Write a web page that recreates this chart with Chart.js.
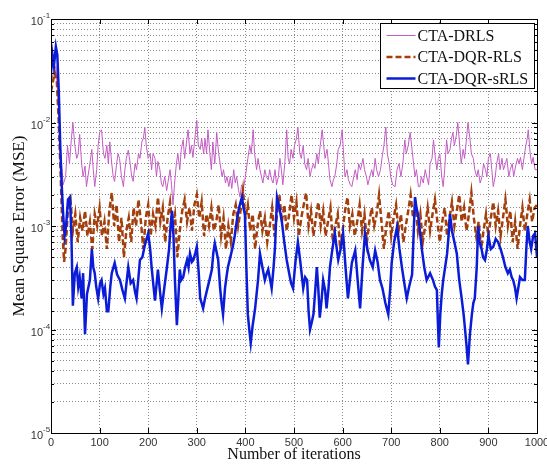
<!DOCTYPE html>
<html>
<head>
<meta charset="utf-8">
<script src="https://cdn.jsdelivr.net/npm/chart.js@4"></script>
<style>
  html, body { margin: 0; padding: 0; background: #fff; }
  #wrap { width: 547px; height: 464px; }
</style>
</head>
<body>
<div id="wrap"><canvas id="mseChart" width="547" height="464"></canvas></div>
<script>
// series (iteration, MSE)
const drlsIter = [0,5,10,15,20,25,30,34,38,42,45,49,53,56,59,63,66,70,73,76,80,84,87,90,94,97,100,104,108,111,115,118,121,125,128,131,135,138,141,145,149,152,155,159,163,166,169,173,176,180,183,187,190,193,196,200,204,207,210,214,217,220,224,227,230,234,238,241,245,248,251,254,258,261,265,268,272,275,278,282,286,289,292,296,300,303,307,310,314,317,320,323,327,330,333,337,341,345,348,352,355,359,362,366,369,372,376,379,382,386,389,392,396,400,405,409,412,416,419,423,426,430,433,436,440,443,447,450,454,457,461,464,468,471,474,477,481,485,488,491,494,498,501,505,508,512,515,519,522,526,529,533,536,540,543,547,550,554,558,561,564,568,571,574,578,581,584,588,591,595,599,602,605,609,612,616,619,623,626,630,633,637,642,645,649,652,656,660,663,667,670,674,678,681,685,689,692,696,699,703,708,712,716,720,724,728,731,735,739,742,746,749,752,756,759,762,766,770,773,777,780,784,787,791,794,797,800,804,807,810,814,817,821,824,827,830,834,837,841,844,848,851,855,858,862,865,869,872,876,879,883,887,890,894,897,900,904,907,910,914,917,921,924,928,931,935,938,942,945,949,952,956,960,963,966,970,973,977,980,982,986,989,992,996,1000];
const drlsMse = [2.5e-2,3e-2,3.5e-2,1.5e-2,5e-3,2.5e-3,3e-3,6e-3,4e-3,7e-3,1e-2,6e-3,4.5e-3,5e-3,7.7e-3,4e-3,3e-3,3.8e-3,2.4e-3,3e-3,4e-3,5.5e-3,3.5e-3,2.4e-3,3.5e-3,6e-3,8e-3,8.5e-3,5e-3,4.5e-3,6e-3,4e-3,6.5e-3,4e-3,3e-3,2.7e-3,4e-3,5e-3,4.5e-3,3e-3,2.4e-3,3.5e-3,4.5e-3,5.4e-3,4e-3,3e-3,2.7e-3,4e-3,3.5e-3,5e-3,4.5e-3,6.5e-3,7e-3,9e-3,6e-3,4.5e-3,5e-3,3.5e-3,5e-3,4.5e-3,3e-3,4.2e-3,3.5e-3,2.6e-3,2.4e-3,3e-3,2.2e-3,2.7e-3,3.5e-3,2.5e-3,1.6e-3,2.5e-3,4e-3,5e-3,3.5e-3,5.5e-3,6.8e-3,4.5e-3,6e-3,8.5e-3,5e-3,6e-3,4.6e-3,7e-3,1.05e-2,6e-3,5.5e-3,7e-3,5e-3,7e-3,5e-3,8.5e-3,5e-3,3.5e-3,6.5e-3,4e-3,8e-3,5e-3,4e-3,3e-3,3.5e-3,2.6e-3,3e-3,2.4e-3,3e-3,2.3e-3,3.5e-3,2.6e-3,3e-3,2.2e-3,1.9e-3,2.5e-3,2.3e-3,3e-3,4.5e-3,6e-3,5e-3,8.5e-3,5e-3,3.5e-3,4.5e-3,3.5e-3,3e-3,2.6e-3,3.5e-3,3e-3,2.8e-3,3.5e-3,2.8e-3,2.6e-3,3.5e-3,2.5e-3,3e-3,4.5e-3,3.5e-3,2.5e-3,4e-3,8.5e-3,4.5e-3,4e-3,5.5e-3,4.5e-3,6e-3,7e-3,9e-3,5e-3,4.5e-3,6e-3,4e-3,3.5e-3,4.5e-3,3e-3,3.5e-3,4e-3,3.6e-3,5e-3,4e-3,6e-3,8.5e-3,6e-3,4.5e-3,5.5e-3,4e-3,2.8e-3,2.4e-3,2.8e-3,3e-3,4e-3,5.5e-3,6e-3,8.5e-3,5e-3,3e-3,3.5e-3,2.8e-3,2.5e-3,2.4e-3,3e-3,3.5e-3,2.8e-3,4e-3,3.5e-3,4.5e-3,3.5e-3,3e-3,2.5e-3,3e-3,3.5e-3,3e-3,4.5e-3,3.5e-3,3e-3,3.5e-3,4.5e-3,6e-3,9e-3,5e-3,4e-3,3e-3,2.5e-3,2.4e-3,3.5e-3,4e-3,3e-3,4e-3,6.8e-3,5e-3,6e-3,8e-3,6e-3,4e-3,3e-3,3.5e-3,2.4e-3,2.4e-3,3e-3,2.6e-3,3.5e-3,3e-3,2.5e-3,4e-3,4.5e-3,6.8e-3,4.5e-3,3.5e-3,4.5e-3,5e-3,3e-3,2.4e-3,3.5e-3,6.8e-3,5e-3,5.5e-3,7e-3,8e-3,6e-3,7.5e-3,1e-2,6e-3,4e-3,5.5e-3,4.5e-3,7e-3,1e-2,7e-3,5e-3,4.5e-3,3.5e-3,3e-3,3.5e-3,2.6e-3,3e-3,4e-3,3.5e-3,3e-3,4.5e-3,5e-3,3.5e-3,2.4e-3,3e-3,4e-3,5e-3,3.5e-3,4.5e-3,3.5e-3,4e-3,4.5e-3,3e-3,3.5e-3,4e-3,3e-3,3.8e-3,4.5e-3,4e-3,4.6e-3,3.5e-3,4.5e-3,6e-3,7e-3,8.5e-3,5e-3,4e-3,4.6e-3,3.5e-3,3.5e-3];

const dqrIter = [0,4,8,12,16,20,24,27,30,35,40,45,50,55,60,65,70,75,80,85,90,95,100,105,110,115,120,125,130,135,140,145,150,155,160,165,170,175,180,185,190,195,200,205,210,215,220,225,230,235,240,245,250,255,260,265,270,275,280,285,290,295,300,305,310,315,320,325,330,335,340,345,350,355,360,365,370,375,380,385,390,395,400,405,410,415,420,425,430,435,440,445,450,455,460,465,470,475,480,485,490,495,500,505,510,515,520,525,530,535,540,545,550,555,560,565,570,575,580,585,590,595,600,605,610,615,620,625,630,635,640,645,650,655,660,665,670,675,680,685,690,695,700,705,710,715,720,725,730,735,740,745,750,755,760,765,770,775,780,785,790,795,800,805,810,815,820,825,830,835,840,845,850,855,860,865,870,875,880,885,890,895,900,905,910,915,920,925,930,935,940,945,950,955,960,965,970,975,980,985,990,995,1000];
const dqrMse = [2e-2,2.5e-2,3e-2,2.5e-2,1e-2,3e-3,8e-4,4.5e-4,6e-4,1.5e-3,1.8e-3,9e-4,1.3e-3,7e-4,1.2e-3,9e-4,1.4e-3,8e-4,1.1e-3,6e-4,1.3e-3,1e-3,1.5e-3,8e-4,1.1e-3,6e-4,1.4e-3,2.1e-3,1e-3,1.6e-3,7e-4,1.2e-3,5e-4,9e-4,1.2e-3,7e-4,1.5e-3,1e-3,1.8e-3,1.1e-3,6e-4,1.2e-3,1.6e-3,8e-4,1.3e-3,1e-3,1.9e-3,1.1e-3,1.5e-3,7e-4,1.2e-3,1.7e-3,1e-3,1.3e-3,5e-4,9e-4,1.4e-3,1.8e-3,1.1e-3,1.5e-3,9e-4,1.6e-3,2e-3,1.2e-3,1.7e-3,8e-4,1.3e-3,1e-3,1.5e-3,9e-4,1.1e-3,1.6e-3,8e-4,1.2e-3,6e-4,1e-3,7e-4,1.3e-3,1.6e-3,1e-3,1.4e-3,2.2e-3,1.2e-3,1.6e-3,9e-4,1.3e-3,6e-4,1e-3,1.4e-3,9e-4,1.2e-3,7e-4,1e-3,1.5e-3,8e-4,1.3e-3,2e-3,1.1e-3,1.6e-3,9e-4,1.3e-3,2e-3,1.2e-3,1.7e-3,8e-4,1.2e-3,1.6e-3,2.1e-3,1e-3,1.4e-3,8e-4,1.2e-3,1.7e-3,1e-3,1.4e-3,8e-4,1.1e-3,1.5e-3,7e-4,1e-3,1.3e-3,6e-4,9e-4,1.4e-3,1.9e-3,1e-3,1.3e-3,8e-4,1.1e-3,1.6e-3,9e-4,1.3e-3,7e-4,1.1e-3,1.5e-3,1e-3,1.3e-3,2e-3,1.1e-3,6e-4,1e-3,1.4e-3,8e-4,1.2e-3,1.6e-3,9e-4,1.3e-3,7e-4,1e-3,1.4e-3,2e-3,1.2e-3,1.6e-3,9e-4,1.3e-3,7e-4,1e-3,1.5e-3,9e-4,1.3e-3,1.8e-3,1.1e-3,7e-4,1.1e-3,1.5e-3,8e-4,1.2e-3,1.7e-3,1e-3,1.4e-3,2e-3,1.1e-3,1.5e-3,9e-4,1.3e-3,2.1e-3,1.2e-3,8e-4,1.1e-3,6e-4,9e-4,1.3e-3,8e-4,1.2e-3,1.7e-3,1e-3,1.4e-3,8e-4,1.2e-3,1.8e-3,1e-3,1.4e-3,7e-4,1.1e-3,6e-4,1e-3,1.5e-3,9e-4,1.3e-3,1.8e-3,1.1e-3,1.5e-3,1.6e-3];

const srlsIter = [0,3,6,10,13,16,19,22,25,28,31,35,39,42,45,49,53,56,59,63,66,70,74,80,84,87,90,93,97,101,104,108,111,115,118,122,125,131,136,142,147,152,156,159,164,169,173,176,180,183,188,193,200,204,207,211,214,218,220,224,228,233,238,243,246,249,252,255,259,262,265,268,272,276,280,283,286,290,293,297,300,304,307,310,313,317,321,326,331,334,337,341,344,348,351,354,358,361,364,369,374,378,382,387,390,393,396,399,402,405,408,411,415,420,423,426,430,435,440,444,447,451,454,458,461,465,470,475,480,485,490,494,498,503,508,513,519,523,527,530,533,537,540,544,547,550,553,557,560,564,567,571,574,579,584,588,591,596,601,606,611,615,619,626,631,636,641,646,651,656,662,667,672,677,682,688,694,698,701,706,712,717,722,727,732,737,743,746,749,752,755,759,763,768,773,780,786,790,794,796,798,801,804,807,811,815,818,821,825,830,835,840,845,849,852,855,858,862,866,869,872,876,879,882,886,889,893,897,900,905,910,915,920,925,930,935,940,944,948,951,955,958,962,965,970,975,978,981,985,988,992,996,1000];
const srlsMse = [3e-2,4.5e-2,3.5e-2,5.4e-2,4.5e-2,2e-2,6e-3,2.5e-3,1.3e-3,8e-4,1e-3,1.8e-3,1.9e-3,8e-4,1.7e-4,3.5e-4,4e-4,2.6e-4,3.2e-4,2e-4,3.5e-4,9e-5,2.2e-4,3e-4,6e-4,4e-4,3.5e-4,2.6e-4,2e-4,2.8e-4,3e-4,2.2e-4,2.5e-4,1.5e-4,1.5e-4,2.6e-4,3.5e-4,4.4e-4,3.4e-4,3e-4,2.4e-4,2e-4,3e-4,4e-4,2.8e-4,3e-4,2.3e-4,2e-4,3.2e-4,4.7e-4,5e-4,6.5e-4,8.5e-4,6e-4,4e-4,2.6e-4,1.9e-4,3e-4,3.8e-4,2.4e-4,1.6e-4,2.5e-4,3.8e-4,6e-4,1e-3,1.4e-3,8e-4,3e-4,1.1e-4,2e-4,3.8e-4,3e-4,3.2e-4,4e-4,4.7e-4,4e-4,5.4e-4,4.5e-4,4.7e-4,5.5e-4,6.3e-4,3.5e-4,2e-4,1.8e-4,1.6e-4,2e-4,2.4e-4,3e-4,3.8e-4,5.5e-4,6.8e-4,5.5e-4,4.7e-4,2.5e-4,1.8e-4,1.4e-4,2.5e-4,3.2e-4,4e-4,5e-4,6.3e-4,8e-4,1.1e-3,1.5e-3,1.7e-3,1.9e-3,1.5e-3,1.3e-3,4e-4,1.4e-4,1e-4,7.4e-5,1.1e-4,1.6e-4,2.2e-4,3e-4,5.4e-4,4e-4,3e-4,3.5e-4,3.8e-4,3e-4,2.5e-4,4e-4,6.3e-4,1.9e-3,1.5e-3,1.1e-3,7e-4,4.7e-4,3.5e-4,2.8e-4,2.5e-4,4.5e-4,7e-4,4.5e-4,2.5e-4,3.2e-4,3e-4,1.5e-4,1e-4,1.2e-4,1.4e-4,2.5e-4,4e-4,2.5e-4,1.3e-4,2e-4,3e-4,2.4e-4,1.6e-4,2.5e-4,4e-4,6e-4,8.5e-4,6e-4,4.7e-4,6e-4,8.5e-4,4e-4,2e-4,3e-4,4.4e-4,5.8e-4,3e-4,1.6e-4,4e-4,8.5e-4,6e-4,4.7e-4,4e-4,5.8e-4,4.5e-4,3e-4,2.5e-4,1.8e-4,1.4e-4,2.5e-4,4.4e-4,7e-4,9.8e-4,6e-4,4e-4,2.8e-4,2e-4,2.6e-4,3.4e-4,8e-4,1.9e-3,1.5e-3,1.3e-3,9e-4,6e-4,4e-4,3e-4,3.5e-4,3e-4,2.6e-4,2.4e-4,1.2e-4,6.7e-5,1.4e-4,2.2e-4,3e-4,4e-4,5.4e-4,8e-4,1.3e-3,9e-4,7e-4,5.4e-4,3e-4,2e-4,1.4e-4,1e-4,7e-5,4.6e-5,9e-5,1.4e-4,1.8e-4,2e-4,4e-4,1e-3,7e-4,6e-4,5e-4,4.7e-4,6e-4,8e-4,6e-4,6.3e-4,7.5e-4,7e-4,6e-4,5e-4,4e-4,3.5e-4,3.8e-4,3.2e-4,3e-4,2.5e-4,2e-4,2.6e-4,3.2e-4,3e-4,3e-4,6e-4,1e-3,7e-4,6e-4,8e-4,8.5e-4,5e-4];

const seriesNames = ['CTA-DRLS', 'CTA-DQR-RLS', 'CTA-DQR-sRLS'];
const xTicks = [0,100,200,300,400,500,600,700,800,900,1000];
const yExponents = [-1,-2,-3,-4,-5];

function pts(xs, ys) {
  return xs.map((x, i) => ({ x: x, y: ys[i] }));
}

// frame, inward tick marks, 10^n labels and the legend box
const decorPlugin = {
  id: 'decor',
  afterDraw(chart) {
    const ctx = chart.ctx;
    const a = chart.chartArea;
    const xs = chart.scales.x, ys = chart.scales.y;
    ctx.save();
    ctx.strokeStyle = '#000';
    ctx.lineWidth = 1;
    // tick marks
    ctx.beginPath();
    ys.ticks.forEach(t => {
      const y = Math.round(ys.getPixelForValue(t.value)) + 0.5;
      const major = Math.abs(Math.log10(t.value) - Math.round(Math.log10(t.value))) < 1e-6;
      const len = major ? 5 : 3;
      ctx.moveTo(a.left, y); ctx.lineTo(a.left + len, y);
      ctx.moveTo(a.right, y); ctx.lineTo(a.right - len, y);
    });
    xTicks.forEach(v => {
      const x = Math.round(xs.getPixelForValue(v)) + 0.5;
      ctx.moveTo(x, a.bottom); ctx.lineTo(x, a.bottom - 5);
      ctx.moveTo(x, a.top); ctx.lineTo(x, a.top + 5);
    });
    ctx.stroke();
    ctx.strokeRect(Math.round(a.left) + 0.5, Math.round(a.top) + 0.5,
      Math.round(a.right - a.left), Math.round(a.bottom - a.top));

    // y labels with superscript exponent
    ctx.fillStyle = '#333';
    ctx.textBaseline = 'middle';
    yExponents.forEach(e => {
      const y = ys.getPixelForValue(Math.pow(10, e));
      ctx.font = '11px "Liberation Sans", Arial, sans-serif';
      ctx.textAlign = 'right';
      ctx.fillText('10', a.left - 8, y + 3);
      ctx.font = '8px "Liberation Sans", Arial, sans-serif';
      ctx.textAlign = 'left';
      ctx.fillText(String(e), a.left - 8, y - 3);
    });

    // legend
    const lx = 380.5, ly = 23.5, lw = 154, lh = 65;
    ctx.fillStyle = '#fff';
    ctx.fillRect(lx, ly, lw, lh);
    ctx.strokeStyle = '#000';
    ctx.strokeRect(lx, ly, lw, lh);
    ctx.font = '16px "Liberation Serif", "Times New Roman", serif';
    ctx.textAlign = 'left';
    ctx.textBaseline = 'middle';
    chart.data.datasets.forEach((ds, i) => {
      const y = ly + 12 + i * 21.5;
      ctx.save();
      ctx.strokeStyle = ds.borderColor;
      ctx.lineWidth = ds.borderWidth;
      ctx.setLineDash(ds.borderDash || []);
      ctx.beginPath();
      ctx.moveTo(lx + 6, y); ctx.lineTo(lx + 35, y);
      ctx.stroke();
      ctx.restore();
      ctx.fillStyle = '#111';
      ctx.fillText(ds.label, lx + 37, y + 1);
    });
    ctx.restore();
  }
};

const ctx = document.getElementById('mseChart').getContext('2d');
const mseChart = new Chart(ctx, {
  type: 'line',
  data: {
    datasets: [
      { label: seriesNames[0], data: pts(drlsIter, drlsMse), borderColor: '#c25cc4', borderWidth: 1, pointRadius: 0, tension: 0, order: 3 },
      { label: seriesNames[1], data: pts(dqrIter, dqrMse), borderColor: '#a33f0c', borderWidth: 2.5, borderDash: [6, 3], pointRadius: 0, tension: 0, order: 2 },
      { label: seriesNames[2], data: pts(srlsIter, srlsMse), borderColor: '#0b1cd8', borderWidth: 2.5, pointRadius: 0, tension: 0, order: 1 },
    ],
  },
  options: {
    responsive: false,
    animation: false,
    layout: { padding: { top: 19, right: 10, left: 0, bottom: 0 } },
    plugins: { legend: { display: false }, tooltip: { enabled: false } },
    scales: {
      x: {
        type: 'linear',
        min: 0,
        max: 1000,
        afterBuildTicks: (s) => { s.ticks = xTicks.map(v => ({ value: v })); },
        ticks: { font: { family: '"Liberation Sans", Arial, sans-serif', size: 11 }, color: '#333', padding: 3, maxRotation: 0, callback: (v) => String(v) },
        grid: { color: '#8a8a8a', drawTicks: false },
        border: { display: false, dash: [1, 2] },
        title: {
          display: true,
          text: 'Number of iterations',
          font: { family: '"Liberation Serif", "Times New Roman", serif', size: 16 },
          color: '#111',
          padding: { top: 0, bottom: 0 },
        },
        afterFit: (s) => { s.height = 31; s.paddingRight = 0; s.paddingLeft = 0; },
      },
      y: {
        type: 'logarithmic',
        min: 1e-5,
        max: 1e-1,
        ticks: { autoSkip: false, callback: () => '' },
        grid: { color: '#8a8a8a', drawTicks: false },
        border: { display: false, dash: [1, 2] },
        title: {
          display: true,
          text: 'Mean Square Error (MSE)',
          font: { family: '"Liberation Serif", "Times New Roman", serif', size: 17 },
          color: '#111',
          padding: { top: 9, bottom: 0 },
        },
        afterFit: (s) => { s.width = 51; },
      },
    },
  },
  plugins: [decorPlugin],
});
</script>
</body>
</html>
